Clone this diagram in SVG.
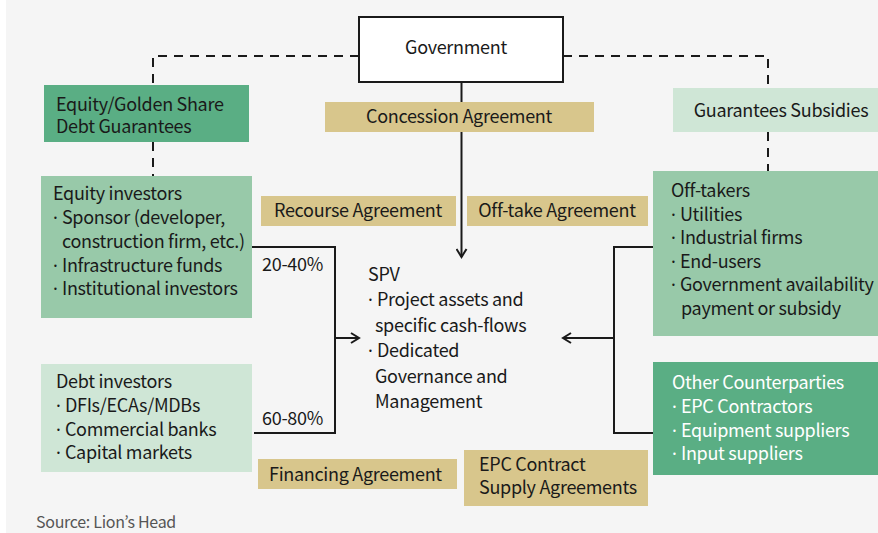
<svg xmlns="http://www.w3.org/2000/svg" width="878" height="533" viewBox="0 0 878 533">
<defs>
<style>
text{font-family:"Noto Sans CJK KR","Noto Sans",sans-serif;font-size:18px;fill:#1a1a1a;letter-spacing:-0.3px}
.b{font-family:"Noto Sans",sans-serif}
.w{fill:#ffffff}
.src{font-size:16px;fill:#555555;letter-spacing:-0.3px}
.ln{fill:none;stroke:#1a1a1a;stroke-width:2}
.dash{fill:none;stroke:#1a1a1a;stroke-width:2;stroke-dasharray:9,7}
.tan{fill:#d8c68c}
.dk{fill:#5aae84}
.md{fill:#98c9a9}
.lt{fill:#cfe6d6}
</style>
<marker id="ah" markerWidth="12" markerHeight="12" refX="10" refY="6" orient="auto" markerUnits="userSpaceOnUse">
<path d="M2,1 L10,6 L2,11" fill="none" stroke="#1a1a1a" stroke-width="2"/>
</marker>
</defs>
<rect x="0" y="0" width="878" height="533" fill="#ffffff"/>
<rect x="6" y="0" width="872" height="533" fill="#f5f5f5"/>
<g id="connectors">
<path class="dash" d="M359,56 H153 V85"/>
<path class="dash" d="M153,142 V176"/>
<path class="dash" d="M563,56 H768 V88"/>
<path class="dash" d="M768,132 V171"/>
<path class="ln" d="M461.5,82 V257" marker-end="url(#ah)"/>
<path class="ln" d="M252,247 H335 V433 H254"/>
<path class="ln" d="M335,338 H359" marker-end="url(#ah)"/>
<path class="ln" d="M653,247 H614 V433 H653"/>
<path class="ln" d="M614,338 H563" marker-end="url(#ah)"/>
</g>
<g id="government">
<rect x="359" y="17" width="204" height="65" fill="#ffffff" stroke="#1a1a1a" stroke-width="2"/>
<text x="456" y="54" text-anchor="middle">Government</text>
</g>
<g id="equity-golden">
<rect class="dk" x="44" y="85" width="205" height="57"/>
<text x="56" y="111">Equity/Golden Share</text>
<text x="56" y="133">Debt Guarantees</text>
</g>
<g id="guarantees-subsidies">
<rect class="lt" x="673" y="88" width="205" height="44"/>
<text x="781" y="117" text-anchor="middle">Guarantees Subsidies</text>
</g>
<g id="concession">
<rect class="tan" x="325" y="102" width="269" height="30"/>
<text x="459" y="123" text-anchor="middle">Concession Agreement</text>
</g>
<g id="recourse">
<rect class="tan" x="261" y="196" width="195" height="30"/>
<text x="358" y="217" text-anchor="middle">Recourse Agreement</text>
</g>
<g id="offtake-agreement">
<rect class="tan" x="467" y="196" width="181" height="30"/>
<text x="557" y="217" text-anchor="middle">Off-take Agreement</text>
</g>
<g id="equity-investors">
<rect class="md" x="41" y="176" width="211" height="142"/>
<text x="53" y="200">Equity investors</text>
<text x="53" y="224"><tspan class="b">· </tspan>Sponsor (developer,</text>
<text x="62" y="248">construction firm, etc.)</text>
<text x="53" y="272"><tspan class="b">· </tspan>Infrastructure funds</text>
<text x="53" y="295"><tspan class="b">· </tspan>Institutional investors</text>
</g>
<g id="debt-investors">
<rect class="lt" x="41" y="364" width="211" height="108"/>
<text x="56" y="388">Debt investors</text>
<text x="56" y="412"><tspan class="b">· </tspan>DFIs/ECAs/MDBs</text>
<text x="56" y="436"><tspan class="b">· </tspan>Commercial banks</text>
<text x="56" y="459"><tspan class="b">· </tspan>Capital markets</text>
</g>
<g id="pct">
<text x="262" y="271">20-40%</text>
<text x="262" y="425">60-80%</text>
</g>
<g id="spv">
<text x="368" y="281">SPV</text>
<text x="368" y="306"><tspan class="b">· </tspan>Project assets and</text>
<text x="375" y="332">specific cash-flows</text>
<text x="368" y="357"><tspan class="b">· </tspan>Dedicated</text>
<text x="375" y="383">Governance and</text>
<text x="375" y="408">Management</text>
</g>
<g id="off-takers">
<rect class="md" x="653" y="171" width="225" height="165"/>
<text x="671" y="197">Off-takers</text>
<text x="671" y="221"><tspan class="b">· </tspan>Utilities</text>
<text x="671" y="244"><tspan class="b">· </tspan>Industrial firms</text>
<text x="671" y="268"><tspan class="b">· </tspan>End-users</text>
<text x="671" y="291"><tspan class="b">· </tspan>Government availability</text>
<text x="681" y="315">payment or subsidy</text>
</g>
<g id="other-counterparties">
<rect class="dk" x="653" y="362" width="225" height="113"/>
<text class="w" x="672" y="389">Other Counterparties</text>
<text class="w" x="672" y="413"><tspan class="b">· </tspan>EPC Contractors</text>
<text class="w" x="672" y="437"><tspan class="b">· </tspan>Equipment suppliers</text>
<text class="w" x="672" y="460"><tspan class="b">· </tspan>Input suppliers</text>
</g>
<g id="financing">
<rect class="tan" x="258" y="459" width="199" height="30"/>
<text x="269" y="481">Financing Agreement</text>
</g>
<g id="epc">
<rect class="tan" x="464" y="450" width="184" height="56"/>
<text x="479" y="471">EPC Contract</text>
<text x="479" y="494">Supply Agreements</text>
</g>
<text class="src" x="36" y="528">Source: Lion’s Head</text>
</svg>
